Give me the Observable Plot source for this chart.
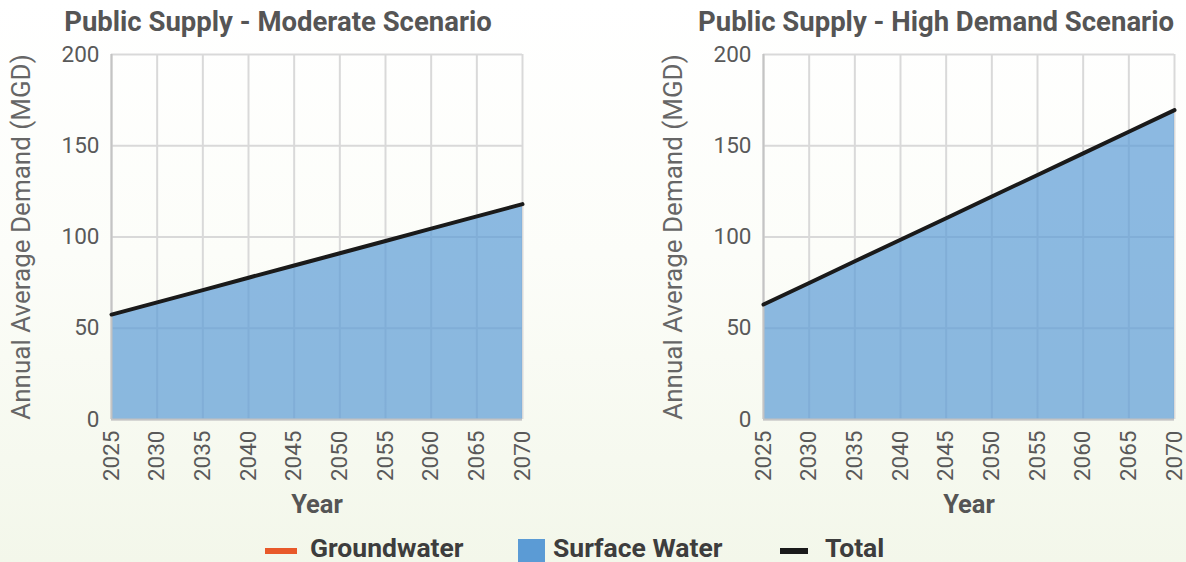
<!DOCTYPE html>
<html>
<head>
<meta charset="utf-8">
<script src="https://cdn.jsdelivr.net/npm/d3@7"></script>
<script src="https://cdn.jsdelivr.net/npm/@observablehq/plot@0.6"></script>
<style>
  html, body { margin: 0; padding: 0; }
  body {
    width: 1186px; height: 562px; overflow: hidden; position: relative;
    background: linear-gradient(to bottom, #ffffff 0%, #fcfdf9 45%, #f3f7ea 100%);
    font-family: Roboto, "Noto Sans", sans-serif;
  }
  .chart { position: absolute; top: 0; width: 560px; height: 500px; }
  .title {
    position: absolute; top: 4px; width: 600px; text-align: center;
    font-weight: bold; font-size: 27.5px; line-height: 36px; color: #555555;
    white-space: nowrap;
  }
  .chart svg { background: transparent; overflow: visible; max-width: none !important; }
  .chart svg g[aria-label="x-axis label"] text { font-weight: bold; font-size: 25.5px; fill: #555555; }
  .chart svg g[aria-label="y-axis label"] text { font-size: 26px; fill: #666666; }
  .legend { position: absolute; left: 0; top: 533px; width: 1186px; height: 29px; }
  .li { position: absolute; top: 0; font-weight: bold; font-size: 26.5px; line-height: 30px; color: #3d3d3d; white-space: nowrap; }
  .sw { position: absolute; }
</style>
</head>
<body>
<div class="chart" id="c1" style="left:0px"></div>
<div class="chart" id="c2" style="left:652px"></div>
<div class="title" style="left:-22px">Public Supply - Moderate Scenario</div>
<div class="title" style="left:636px">Public Supply - High Demand Scenario</div>
<div class="legend" id="legend"></div>
<script>
// ---- data ----
const years = [2025, 2030, 2035, 2040, 2045, 2050, 2055, 2060, 2065, 2070];
const moderateGroundwater = [0, 0, 0, 0, 0, 0, 0, 0, 0, 0];
const moderateSurface = [57.5, 64.2, 70.9, 77.7, 84.4, 91.1, 97.8, 104.6, 111.3, 118.0];
const highGroundwater = [0, 0, 0, 0, 0, 0, 0, 0, 0, 0];
const highSurface = [63.0, 74.8, 86.7, 98.5, 110.3, 122.2, 134.0, 145.8, 157.7, 169.5];
const yTicks = [0, 50, 100, 150, 200];
const xTicks = years;
const seriesNames = ["Groundwater", "Surface Water", "Total"];
const seriesColors = ["#e8592a", "#5b9bd5", "#1a1a1a"];

function rows(gw, sw) {
  return years.map((yr, i) => ({year: yr, gw: gw[i], sw: sw[i], total: gw[i] + sw[i]}));
}

function makeChart(data) {
  return Plot.plot({
    width: 560,
    height: 500,
    marginLeft: 111,
    marginRight: 38,
    marginTop: 54,
    marginBottom: 81,
    style: {fontFamily: "Roboto, 'Noto Sans', sans-serif", fontSize: "22.5px", color: "#595959", background: "transparent"},
    x: {domain: [2025, 2070]},
    y: {domain: [0, 200]},
    marks: [
      Plot.gridX(xTicks, {stroke: "#d9d9d9", strokeOpacity: 1, strokeWidth: 2}),
      Plot.gridY(yTicks, {stroke: "#d9d9d9", strokeOpacity: 1, strokeWidth: 2}),
      Plot.areaY(data, {x: "year", y1: 0, y2: "gw", fill: seriesColors[0], fillOpacity: 0.7}),
      Plot.areaY(data, {x: "year", y1: "gw", y2: "total", fill: seriesColors[1], fillOpacity: 0.7}),
      Plot.ruleX([2025], {stroke: "#c4c4c4", strokeWidth: 2}),
      Plot.ruleY([0], {stroke: "#c4c4c4", strokeWidth: 2}),
      Plot.lineY(data, {x: "year", y: "total", stroke: seriesColors[2], strokeWidth: 4}),
      Plot.axisY(yTicks, {tickSize: 0, tickPadding: 12, label: "Annual Average Demand (MGD)", labelAnchor: "center", labelArrow: "none", labelOffset: 100}),
      Plot.axisX(xTicks, {tickSize: 0, tickPadding: 11, tickRotate: -90, tickFormat: "d", label: "Year", labelAnchor: "center", labelArrow: "none", labelOffset: 93})
    ]
  });
}

document.getElementById("c1").appendChild(makeChart(rows(moderateGroundwater, moderateSurface)));
document.getElementById("c2").appendChild(makeChart(rows(highGroundwater, highSurface)));

// legend
const legend = document.getElementById("legend");
const items = [
  {swLeft: 265, swTop: 15, swW: 32, swH: 6, textLeft: 310},
  {swLeft: 518, swTop: 6, swW: 27, swH: 23, textLeft: 553},
  {swLeft: 780, swTop: 15, swW: 28, swH: 6, textLeft: 825}
];
items.forEach((it, i) => {
  const s = document.createElement("div");
  s.className = "sw";
  s.style.cssText = `left:${it.swLeft}px;top:${it.swTop}px;width:${it.swW}px;height:${it.swH}px;background:${seriesColors[i]}`;
  legend.appendChild(s);
  const t = document.createElement("div");
  t.className = "li";
  t.style.left = it.textLeft + "px";
  t.textContent = seriesNames[i];
  legend.appendChild(t);
});
</script>
</body>
</html>
